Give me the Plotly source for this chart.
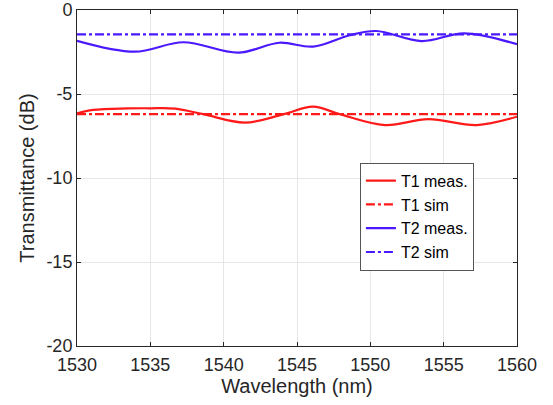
import plotly.graph_objects as go

# Data
t1_meas_wl = [1530, 1531.1, 1533.4, 1535.0, 1536.7, 1538.6, 1541.45, 1544.1, 1546.1, 1547.9, 1551.0, 1553.95, 1557.25, 1560]
t1_meas_db = [-6.15, -5.95, -5.86, -5.85, -5.87, -6.2, -6.7, -6.2, -5.75, -6.2, -6.85, -6.5, -6.85, -6.35]

t2_meas_wl = [1530, 1533.95, 1537.25, 1541.0, 1543.8, 1546.1, 1548.6, 1550.4, 1553.5, 1556.4, 1560]
t2_meas_db = [-1.83, -2.48, -1.92, -2.54, -1.95, -2.18, -1.5, -1.25, -1.85, -1.39, -2.04]

sim_wl = [1530, 1560]
t1_sim_db = [-6.2, -6.2]
t2_sim_db = [-1.45, -1.45]

x_ticks = [1530, 1535, 1540, 1545, 1550, 1555, 1560]
y_ticks = [0, -5, -10, -15, -20]
y_tick_text = ["0", "-5", "-10", "-15", "-20"]

RED = "rgb(255,25,25)"
BLUE = "rgb(75,25,255)"
INK = "#262626"

fig = go.Figure()
fig.add_trace(go.Scatter(x=t1_meas_wl, y=t1_meas_db, mode="lines", name="T1 meas.",
                         line=dict(color=RED, width=2.2, shape="spline", smoothing=1.0)))
fig.add_trace(go.Scatter(x=sim_wl, y=t1_sim_db, mode="lines", name="T1 sim",
                         line=dict(color=RED, width=2.2, dash="dashdot")))
fig.add_trace(go.Scatter(x=t2_meas_wl, y=t2_meas_db, mode="lines", name="T2 meas.",
                         line=dict(color=BLUE, width=2.2, shape="spline", smoothing=1.0)))
fig.add_trace(go.Scatter(x=sim_wl, y=t2_sim_db, mode="lines", name="T2 sim",
                         line=dict(color=BLUE, width=2.2, dash="dashdot")))

axis_common = dict(
    showline=True, linecolor=INK, linewidth=1, mirror="ticks",
    ticks="inside", ticklen=4, tickcolor=INK,
    showgrid=True, gridcolor="#e6e6e6", gridwidth=1,
    zeroline=False, automargin=False, ticklabeloverflow="allow",
    tickfont=dict(family="Liberation Sans, Arial, sans-serif", size=18, color=INK),
)

fig.update_layout(
    width=553, height=405,
    margin=dict(l=77, r=36, t=10, b=59),
    paper_bgcolor="white", plot_bgcolor="white",
    font=dict(family="Liberation Sans, Arial, sans-serif", color=INK),
    xaxis=dict(range=[1530, 1560], tickvals=x_ticks, ticklabelstandoff=2,
               title=dict(text="Wavelength (nm)", font=dict(size=20, color=INK), standoff=2),
               **axis_common),
    yaxis=dict(range=[-20, 0], tickvals=y_ticks, ticktext=y_tick_text,
               title=dict(text="Transmittance (dB)", font=dict(size=20, color=INK), standoff=6),
               **axis_common),
    legend=dict(x=0.643, y=0.5455, xanchor="left", yanchor="top",
                bgcolor="white", bordercolor="#555555", borderwidth=1,
                font=dict(size=16, color="black"),
                itemwidth=30, tracegroupgap=0),
    showlegend=True,
)

fig.write_html("out.html", config={"displayModeBar": False},
               post_script="document.body.style.margin='0';")
